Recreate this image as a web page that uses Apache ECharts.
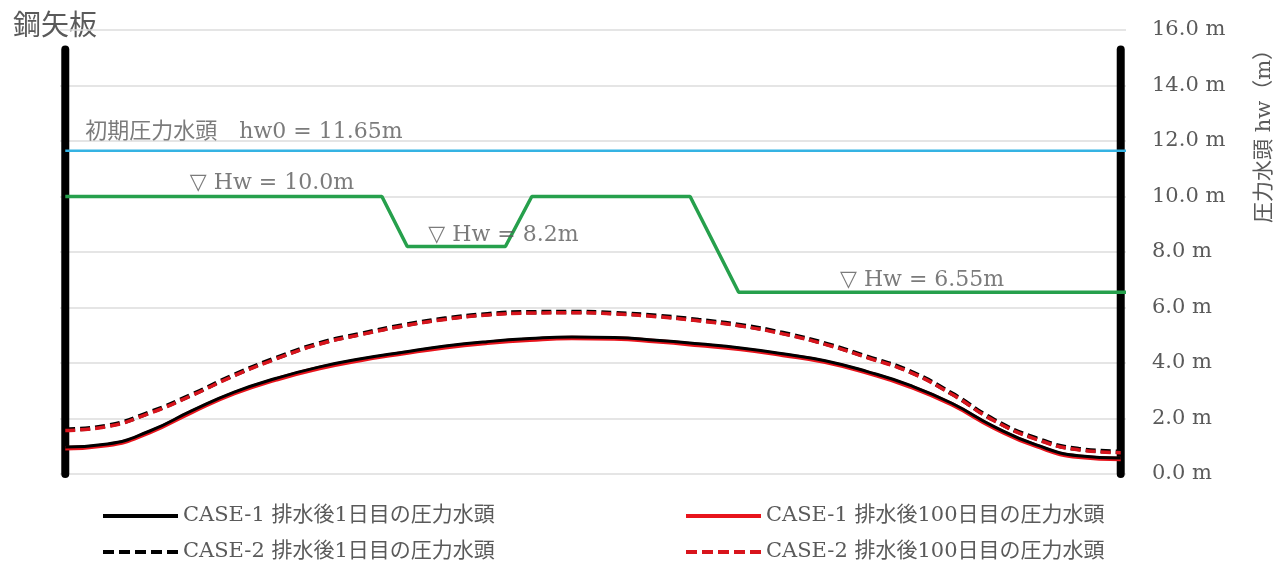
<!DOCTYPE html>
<html><head><meta charset="utf-8">
<script src="https://cdn.jsdelivr.net/npm/echarts@6/dist/echarts.min.js"></script>
<style>html,body{margin:0;padding:0;background:#fff}#c{width:1284px;height:568px}</style>
</head><body><div id="c"></div>
<script>
// ---- data ----
const xPos = [0,4,8,12,16,20,24,28,32,36,40,44,48,52,56,60,64,68,72,76,80,84,88,92,96,100];
const case1Day1   = [0.97,1.08,1.55,2.28,2.95,3.45,3.85,4.15,4.39,4.61,4.77,4.88,4.94,4.92,4.82,4.69,4.54,4.33,4.08,3.69,3.20,2.55,1.71,1.05,0.66,0.58];
const case1Day100 = [0.93,1.04,1.51,2.24,2.91,3.41,3.81,4.11,4.35,4.57,4.73,4.84,4.90,4.88,4.78,4.65,4.50,4.29,4.04,3.65,3.16,2.51,1.67,1.01,0.62,0.54];
const case2Day1   = [1.60,1.74,2.22,2.86,3.57,4.18,4.70,5.05,5.36,5.60,5.76,5.83,5.84,5.80,5.70,5.55,5.36,5.08,4.70,4.22,3.70,2.90,1.95,1.28,0.90,0.80];
const case2Day100 = [1.57,1.71,2.19,2.83,3.54,4.15,4.67,5.02,5.33,5.57,5.73,5.80,5.81,5.77,5.67,5.52,5.33,5.05,4.67,4.19,3.67,2.87,1.92,1.25,0.87,0.77];
const waterX = [0,30,32.4,41.7,44.2,59.2,63.8,100.5];
const waterH = [10,10,8.2,8.2,10,10,6.55,6.55];
const initX = [0,100.5];
const initH = [11.65,11.65];
const pileX = [0,100];
const pileBottom = 0;
const pileTop = 15.3;
const seriesNames = ['CASE-1 排水後1日目の圧力水頭','CASE-1 排水後100日目の圧力水頭','CASE-2 排水後1日目の圧力水頭','CASE-2 排水後100日目の圧力水頭'];
const annoX = [1.9, 11.8, 34.4, 73.4];
const annoY = [12.32, 10.49, 8.61, 6.99];
const annoText = ['初期圧力水頭　hw0 = 11.65m','▽ Hw = 10.0m','▽ Hw = 8.2m','▽ Hw = 6.55m'];
const yMin = 0, yMax = 16, yStep = 2;
const titleText = '鋼矢板';
const axisName = '圧力水頭 hw（m）';

// ---- chart ----
const FONT = "'DejaVu Serif','Noto Sans CJK JP',serif";
const GRAY = '#5a5a5a';
const zip = (xs, ys) => xs.map((x, i) => [x, ys[i]]);
const chart = echarts.init(document.getElementById('c'), null, {renderer: 'canvas'});

const SOLID_ICON = 'rect';
const DASH_ICON = 'path://M0,0h11v4h-11z M16,0h11v4h-11z M32,0h11v4h-11z M48,0h11v4h-11z M64,0h11v4h-11z';

const curve = (name, ys, color, width, dashed, z) => ({
  name, type: 'line', data: zip(xPos, ys), smooth: true, symbol: 'none', z,
  lineStyle: {color, width, type: dashed ? [10, 5] : 'solid'},
  itemStyle: {color}, silent: true
});

const legendBase = {
  orient: 'vertical', top: 504, padding: 0, itemWidth: 75, itemHeight: 4, itemGap: 12,
  textStyle: {color: GRAY, fontSize: 21, lineHeight: 24, fontFamily: FONT}, selectedMode: false
};

const option = {
  animation: false,
  textStyle: {fontFamily: FONT},
  grid: {left: 60, right: 158, top: 30, bottom: 94},
  xAxis: {type: 'value', min: -0.5, max: 100.5, show: false},
  yAxis: {
    type: 'value', position: 'right', min: yMin, max: yMax, interval: yStep,
    axisLine: {show: false}, axisTick: {show: false},
    axisLabel: {margin: 26, color: GRAY, fontSize: 21, fontFamily: FONT,
      formatter: v => v.toFixed(1) + ' m'},
    splitLine: {lineStyle: {color: '#dcdcdc', width: 1.5}}
  },
  legend: [
    Object.assign({}, legendBase, {left: 103,
      data: [{name: seriesNames[0], icon: SOLID_ICON}, {name: seriesNames[2], icon: DASH_ICON}]}),
    Object.assign({}, legendBase, {left: 686,
      data: [{name: seriesNames[1], icon: SOLID_ICON}, {name: seriesNames[3], icon: DASH_ICON}]})
  ],
  graphic: [
    {type: 'text', left: 13, top: 14, style: {text: titleText, fill: GRAY, font: "28px " + FONT}},
    {type: 'text', x: 1265, y: 131, rotation: Math.PI / 2,
     style: {text: axisName, fill: GRAY, font: "21px " + FONT, align: 'center', verticalAlign: 'middle'}}
  ],
  series: [
    {name: 'pileL', type: 'line', data: [[pileX[0], pileBottom], [pileX[0], pileTop]], symbol: 'none', z: 1,
     lineStyle: {color: '#000', width: 8, cap: 'round'}, silent: true},
    {name: 'pileR', type: 'line', data: [[pileX[1], pileBottom], [pileX[1], pileTop]], symbol: 'none', z: 1,
     lineStyle: {color: '#000', width: 8, cap: 'round'}, silent: true},
    {name: 'init', type: 'line', data: zip(initX, initH), symbol: 'none', z: 2,
     lineStyle: {color: '#35b3e3', width: 2.5}, silent: true},
    {name: 'water', type: 'line', data: zip(waterX, waterH), symbol: 'none', z: 2,
     lineStyle: {color: '#26a04c', width: 3.5}, silent: true},
    curve(seriesNames[1], case1Day100, '#e8141c', 4.5, false, 3),
    curve(seriesNames[0], case1Day1, '#000000', 3, false, 3),
    curve(seriesNames[2], case2Day1, '#000000', 4.5, true, 3),
    curve(seriesNames[3], case2Day100, '#d8141c', 3.5, true, 3),
    {name: 'anno', type: 'scatter', symbolSize: 0, z: 4, silent: true,
     data: annoX.map((x, i) => ({value: [x, annoY[i]], label: {formatter: annoText[i]}})),
     label: {show: true, position: 'right', distance: 0, color: GRAY, fontSize: 22, fontFamily: FONT}}
  ]
};
chart.setOption(option);
</script></body></html>
